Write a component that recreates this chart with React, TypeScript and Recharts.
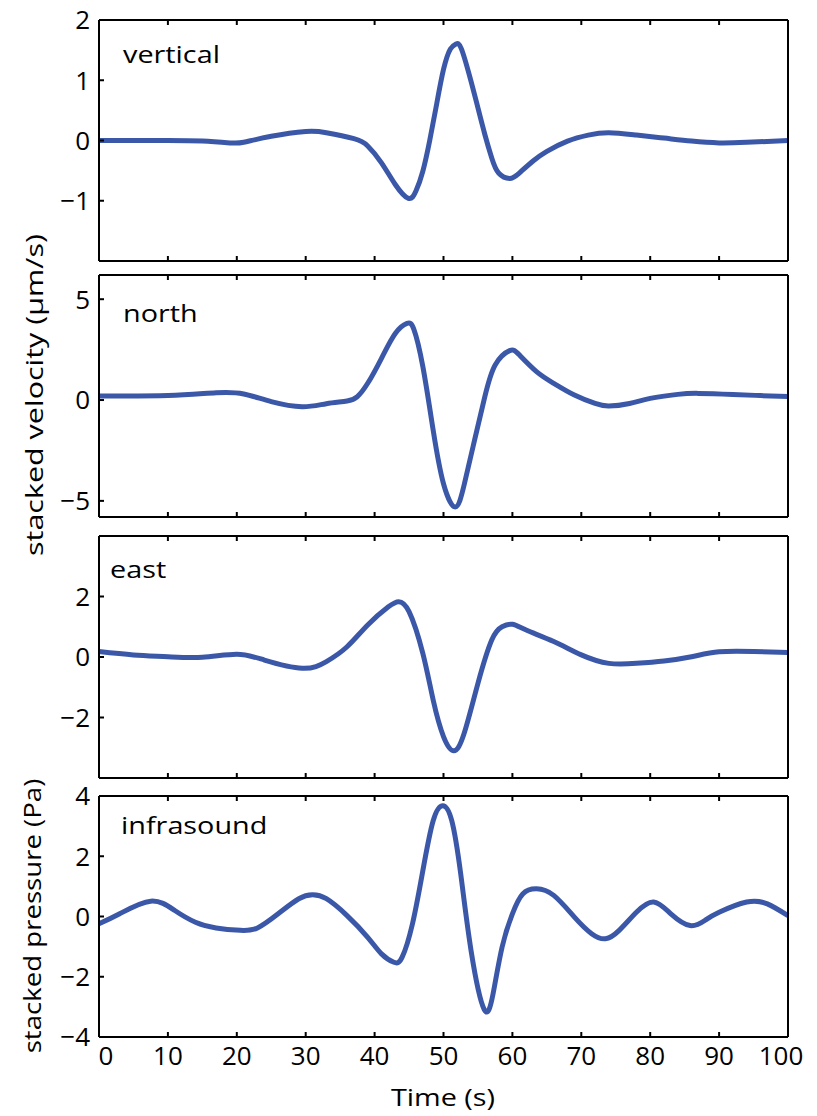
import React from "react";
import { LineChart, Line, XAxis, YAxis } from "recharts";

// time axis (s)
const timeTicks = [0, 10, 20, 30, 40, 50, 60, 70, 80, 90, 100];

// vertical velocity (µm/s)
const verticalT = [0, 10, 15, 19, 21, 25, 30, 33, 37, 39, 41, 43, 44.9, 46, 47, 48, 49, 50, 51, 51.8, 52.6, 54, 55, 56, 57, 58, 59.6, 61, 63, 65, 68, 71, 74, 78, 82, 86, 90, 94, 100];
const verticalV = [0, 0, -0.01, -0.04, -0.03, 0.07, 0.15, 0.13, 0.03, -0.09, -0.37, -0.73, -0.96, -0.84, -0.51, 0, 0.6, 1.18, 1.52, 1.6, 1.52, 0.98, 0.54, 0.1, -0.29, -0.54, -0.63, -0.54, -0.34, -0.18, -0.01, 0.09, 0.13, 0.09, 0.04, -0.01, -0.04, -0.03, 0];
const verticalTicks = [-1, 0, 1, 2];

// north velocity (µm/s)
const northT = [0, 10, 17, 21, 25, 29.5, 33, 36, 37.5, 39, 41, 43, 44.7, 45.7, 47, 48.5, 50, 51.7, 53, 54.5, 56, 57.5, 59.6, 61, 63.5, 66, 69, 72, 74, 77, 80, 84, 87, 92, 96, 100];
const northV = [0.2, 0.22, 0.36, 0.3, -0.08, -0.33, -0.18, -0.05, 0.17, 0.83, 2.07, 3.3, 3.8, 3.5, 1.66, -1.49, -4.15, -5.3, -4.2, -2.0, 0.17, 1.74, 2.45, 2.24, 1.41, 0.83, 0.25, -0.17, -0.3, -0.17, 0.08, 0.28, 0.33, 0.28, 0.22, 0.17];
const northTicks = [-5, 0, 5];

// east velocity (µm/s)
const eastT = [0, 5, 10, 15, 20, 24, 29.5, 33, 36, 39, 42, 43.5, 45, 47, 48.5, 50, 51.5, 53, 55, 57, 58.5, 60, 62, 66, 70, 74, 78, 82, 86, 90, 95, 100];
const eastV = [0.18, 0.07, 0.01, -0.01, 0.09, -0.1, -0.37, -0.15, 0.34, 1.06, 1.66, 1.83, 1.5, 0.12, -1.42, -2.63, -3.1, -2.52, -0.87, 0.56, 1.0, 1.08, 0.89, 0.51, 0.07, -0.21, -0.21, -0.13, 0.01, 0.17, 0.18, 0.15];
const eastTicks = [-2, 0, 2];

// infrasound pressure (Pa)
const infraT = [0, 3, 7.5, 11, 14, 17, 20.5, 23, 26, 29, 31, 33, 36, 39, 41, 42.8, 44, 45.5, 47, 48.5, 49.9, 51.2, 52.5, 54, 55.9, 57.2, 58.5, 60, 61.5, 63.5, 66, 69, 71.5, 73.5, 75.5, 78, 80.5, 83, 85.8, 88, 90, 94, 97, 100];
const infraV = [-0.24, 0.09, 0.51, 0.2, -0.19, -0.38, -0.46, -0.38, 0.09, 0.59, 0.72, 0.59, 0.03, -0.69, -1.24, -1.52, -1.35, -0.24, 1.52, 3.18, 3.68, 3.18, 1.41, -1.13, -3.08, -2.56, -1.02, 0.09, 0.75, 0.92, 0.7, -0.02, -0.57, -0.74, -0.46, 0.14, 0.48, 0.09, -0.3, -0.12, 0.14, 0.48, 0.42, 0.03];
const infraTicks = [-4, -2, 0, 2, 4];

const FONT = '"Open Sans", sans-serif';
const BLUE = "#3b57a8";
const axisStroke = { stroke: "#000", strokeWidth: 2 };
const TICK = 5;

const fmt = (v: number) => (v < 0 ? `\u2212${-v}` : `${v}`);

// inward tick marks, matlab style; labels drawn only where asked
function BottomTick(props: any) {
  const { x, y, payload, showLabel } = props;
  const shift = payload.value === 0 ? 7 : payload.value === 100 ? -7 : 0;
  return (
    <g>
      <line x1={x} x2={x} y1={y} y2={y - TICK} stroke="#000" strokeWidth={2} />
      {showLabel && (
        <text x={x + shift} y={y + 10} dy="0.71em" textAnchor="middle" fontSize={26} fontFamily={FONT} fill="#000">
          {payload.value}
        </text>
      )}
    </g>
  );
}

function TopTick(props: any) {
  const { x, y } = props;
  return <line x1={x} x2={x} y1={y} y2={y + TICK} stroke="#000" strokeWidth={2} />;
}

function LeftTick(props: any) {
  const { x, y, payload } = props;
  return (
    <g>
      <line x1={x} x2={x + TICK} y1={y} y2={y} stroke="#000" strokeWidth={2} />
      <text x={x - 9} y={y} dy="0.36em" textAnchor="end" fontSize={26} fontFamily={FONT} fill="#000">
        {fmt(payload.value)}
      </text>
    </g>
  );
}

function RightTick(props: any) {
  const { x, y } = props;
  return <line x1={x} x2={x - TICK} y1={y} y2={y} stroke="#000" strokeWidth={2} />;
}

function Panel({ top, height, t, v, domain, ticks, showX }: any) {
  const data = t.map((x: number, i: number) => ({ t: x, v: v[i] }));
  const xh = showX ? 50 : 1;
  const pad = 20;
  return (
    <div style={{ position: "absolute", left: 0, top: top - pad }}>
      <LineChart
        width={817}
        height={height + pad * 2 + xh}
        data={data}
        margin={{ top: pad - 1, right: 28, bottom: pad, left: 0 }}
      >
        <XAxis
          xAxisId="b"
          type="number"
          dataKey="t"
          domain={[0, 100]}
          ticks={timeTicks}
          interval={0}
          height={xh}
          tickSize={0}
          tickMargin={0}
          axisLine={axisStroke}
          tickLine={false}
          tick={<BottomTick showLabel={!!showX} />}
        />
        <XAxis
          xAxisId="t"
          orientation="top"
          type="number"
          dataKey="t"
          domain={[0, 100]}
          ticks={timeTicks}
          interval={0}
          height={1}
          tickSize={0}
          tickMargin={0}
          axisLine={axisStroke}
          tickLine={false}
          tick={<TopTick />}
        />
        <YAxis
          yAxisId="l"
          type="number"
          domain={domain}
          ticks={ticks}
          interval={0}
          width={99}
          tickSize={0}
          tickMargin={0}
          axisLine={axisStroke}
          tickLine={false}
          tick={<LeftTick />}
        />
        <YAxis
          yAxisId="r"
          orientation="right"
          type="number"
          domain={domain}
          ticks={ticks}
          interval={0}
          width={1}
          tickSize={0}
          tickMargin={0}
          axisLine={axisStroke}
          tickLine={false}
          tick={<RightTick />}
        />
        <Line
          xAxisId="b"
          yAxisId="l"
          type="natural"
          dataKey="v"
          stroke={BLUE}
          strokeWidth={5}
          dot={false}
          isAnimationActive={false}
        />
      </LineChart>
    </div>
  );
}

const textStyle = { fontFamily: FONT, fontSize: 24, fill: "#000" };

export default function App() {
  return (
    <div style={{ position: "absolute", left: 0, top: 0, width: 817, height: 1116, background: "#fff", overflow: "hidden" }}>
      <Panel top={20} height={241} t={verticalT} v={verticalV} domain={[-2, 2]} ticks={verticalTicks} />
      <Panel top={275} height={242} t={northT} v={northV} domain={[-5.8, 6.2]} ticks={northTicks} />
      <Panel top={536} height={242} t={eastT} v={eastV} domain={[-4, 4]} ticks={eastTicks} />
      <Panel top={796} height={241} t={infraT} v={infraV} domain={[-4, 4]} ticks={infraTicks} showX />
      <svg width={817} height={1116} style={{ position: "absolute", left: 0, top: 0, pointerEvents: "none" }}>
        <text transform="translate(123,63) scale(1.2,1)" style={textStyle}>vertical</text>
        <text transform="translate(123,322) scale(1.2,1)" style={textStyle}>north</text>
        <text transform="translate(110,578) scale(1.2,1)" style={textStyle}>east</text>
        <text transform="translate(121,834) scale(1.2,1)" style={textStyle}>infrasound</text>
        <text transform="translate(443,1106) scale(1.2,1)" textAnchor="middle" style={textStyle}>Time (s)</text>
        <text transform="translate(43,395) rotate(-90) scale(1.27,1)" textAnchor="middle" style={textStyle}>stacked velocity (μm/s)</text>
        <text transform="translate(41,916) rotate(-90) scale(1.15,1)" textAnchor="middle" style={textStyle}>stacked pressure (Pa)</text>
      </svg>
    </div>
  );
}
